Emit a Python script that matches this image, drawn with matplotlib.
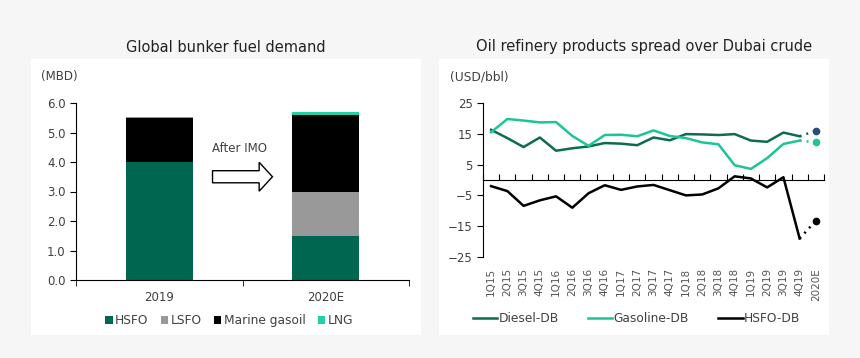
import matplotlib.pyplot as plt
import matplotlib.patches as mpatches
import numpy as np

plt.rcParams['font.family'] = ['DejaVu Sans']

# left chart data (MBD)
years = ['2019', '2020E']
hsfo = [4.0, 1.5]
lsfo = [0.0, 1.5]
mgo = [1.5, 2.6]
lng = [0.04, 0.1]

# right chart data (USD/bbl)
quarters = ['1Q15', '2Q15', '3Q15', '4Q15', '1Q16', '2Q16', '3Q16', '4Q16',
            '1Q17', '2Q17', '3Q17', '4Q17', '1Q18', '2Q18', '3Q18', '4Q18',
            '1Q19', '2Q19', '3Q19', '4Q19', '2020E']
diesel = [16.3, 13.6, 10.7, 13.8, 9.5, 10.3, 10.9, 12.0, 11.8, 11.3, 13.8,
          12.9, 14.9, 14.8, 14.6, 14.9, 12.8, 12.4, 15.4, 14.2, 16.0]
gasoline = [15.5, 19.8, 19.3, 18.7, 18.8, 14.3, 11.1, 14.6, 14.7, 14.2, 16.1,
            14.3, 13.6, 12.2, 11.6, 4.8, 3.6, 7.1, 11.7, 12.8, 12.2]
hsfo_db = [-2.0, -3.6, -8.4, -6.6, -5.3, -9.0, -4.3, -1.7, -3.2, -2.1, -1.6,
           -3.3, -5.0, -4.7, -2.7, 1.2, 0.5, -2.4, 0.9, -19.0, -13.2]

c_hsfo = '#006650'
c_lsfo = '#999999'
c_lng = '#1fd1a6'
c_diesel = '#0e6b50'
c_gas = '#1dc49a'
c_blue = '#2d4a7c'
tc = '#404040'

W, H = 860, 358
fig = plt.figure(figsize=(8.6, 3.58), dpi=100)
fig.patch.set_facecolor('#f6f6f6')

# white panels
for x0, x1 in [(31, 421), (439, 829)]:
    fig.patches.append(mpatches.Rectangle((x0 / W, 1 - 335 / H), (x1 - x0) / W,
                                          (335 - 59) / H, transform=fig.transFigure,
                                          facecolor='white', edgecolor='none', zorder=-10))

fig.text(226 / W, 1 - 47 / H, 'Global bunker fuel demand', ha='center', va='center',
         fontsize=10.5, color='#222222')
fig.text(644 / W, 1 - 47 / H, 'Oil refinery products spread over Dubai crude',
         ha='center', va='center', fontsize=10.5, color='#222222')

# ---------- left chart ----------
ax1 = fig.add_axes([76 / W, 1 - 280 / H, (409 - 76) / W, (280 - 103) / H])
ax1.set_facecolor('none')
x = np.arange(len(years))
bw = 0.4
b1 = ax1.bar(x, hsfo, bw, color=c_hsfo, label='HSFO')
b2 = ax1.bar(x, lsfo, bw, bottom=hsfo, color=c_lsfo, label='LSFO')
bot2 = np.array(hsfo) + np.array(lsfo)
b3 = ax1.bar(x, mgo, bw, bottom=bot2, color='black', label='Marine gasoil')
b4 = ax1.bar(x, lng, bw, bottom=bot2 + np.array(mgo), color=c_lng, label='LNG')
ax1.set_xlim(-0.5, 1.5)
ax1.set_ylim(0, 6)
ax1.set_yticks(np.arange(0, 6.01, 1.0))
ax1.set_yticklabels([f'{v:.1f}' for v in np.arange(0, 6.01, 1.0)])
ax1.set_xticks(x)
ax1.set_xticklabels(years)
ax1.set_xticks([-0.5, 0.5, 1.5], minor=True)
ax1.tick_params(axis='x', which='major', length=0, pad=8, labelsize=8.5, labelcolor=tc)
ax1.tick_params(axis='x', which='minor', length=4, direction='out')
ax1.tick_params(axis='y', length=4, labelsize=8.5, labelcolor=tc)
for s in ['top', 'right']:
    ax1.spines[s].set_visible(False)
ax1.text(-0.05, 1.15, '(MBD)', transform=ax1.transAxes, fontsize=8.5, color=tc,
         ha='center', va='center')
ax1.add_patch(mpatches.FancyArrow(0.32, 3.5, 0.28, 0, width=0.41, head_width=0.98,
                                  head_length=0.08, length_includes_head=False,
                                  facecolor='white', edgecolor='black', lw=1))
ax1.text(0.48, 4.45, 'After IMO', ha='center', va='center', fontsize=8.5, color=tc)
ax1.legend(handles=[b1, b2, b3, b4], loc='center', bbox_to_anchor=(0.46, -0.23),
           ncol=4, frameon=False, fontsize=8.8, handlelength=0.6, handleheight=0.6,
           handletextpad=0.2, columnspacing=1.0, labelcolor=tc)

# ---------- right chart ----------
ax2 = fig.add_axes([483 / W, 1 - 257 / H, (824 - 483) / W, (257 - 103) / H])
ax2.set_facecolor('none')
xq = np.arange(len(quarters))
n = len(quarters) - 1
lw = 1.8
l1, = ax2.plot(xq[:n], diesel[:n], color=c_diesel, lw=lw, label='Diesel-DB')
l2, = ax2.plot(xq[:n], gasoline[:n], color=c_gas, lw=lw, label='Gasoline-DB')
l3, = ax2.plot(xq[:n], hsfo_db[:n], color='black', lw=lw, label='HSFO-DB')
ax2.plot(xq[n - 1:], diesel[n - 1:], color=c_diesel, lw=lw, ls=(0, (0.8, 2.0)))
ax2.plot(xq[n - 1:], gasoline[n - 1:], color=c_gas, lw=lw, ls=(0, (0.8, 2.0)))
ax2.plot(xq[n - 1:], hsfo_db[n - 1:], color='black', lw=lw, ls=(0, (0.8, 2.0)))
ax2.plot(xq[n], diesel[n], 'o', color=c_blue, ms=4.5)
ax2.plot(xq[n], gasoline[n], 'o', color=c_gas, ms=4.5)
ax2.plot(xq[n], hsfo_db[n], 'o', color='black', ms=4.5)
ax2.set_xlim(-0.5, len(quarters) - 0.5)
ax2.set_ylim(-25, 25)
ax2.set_yticks([-25, -15, -5, 5, 15, 25])
ax2.tick_params(axis='y', length=4, labelsize=8.5, labelcolor=tc)
ax2.set_xticks(xq)
ax2.set_xticklabels(quarters, rotation=90)
ax2.tick_params(axis='x', length=0, pad=8, labelsize=7.5, labelcolor='#555555')
for s in ['top', 'right', 'bottom']:
    ax2.spines[s].set_visible(False)
sec = ax2.secondary_xaxis(0.5)
sec.set_xticks(np.arange(-0.5, len(quarters), 1.0))
sec.set_xticklabels([])
sec.tick_params(length=4, direction='out')
ax2.text(-0.01, 1.17, '(USD/bbl)', transform=ax2.transAxes, fontsize=8.8, color=tc,
         ha='center', va='center')
ax2.legend(handles=[l1, l2, l3], loc='center', bbox_to_anchor=(0.45, -0.40), ncol=3,
           frameon=False, fontsize=8.8, handlelength=2.0, handletextpad=0.1,
           columnspacing=2.4, labelcolor=tc)

fig.savefig('out.png', dpi=100, facecolor=fig.get_facecolor())
